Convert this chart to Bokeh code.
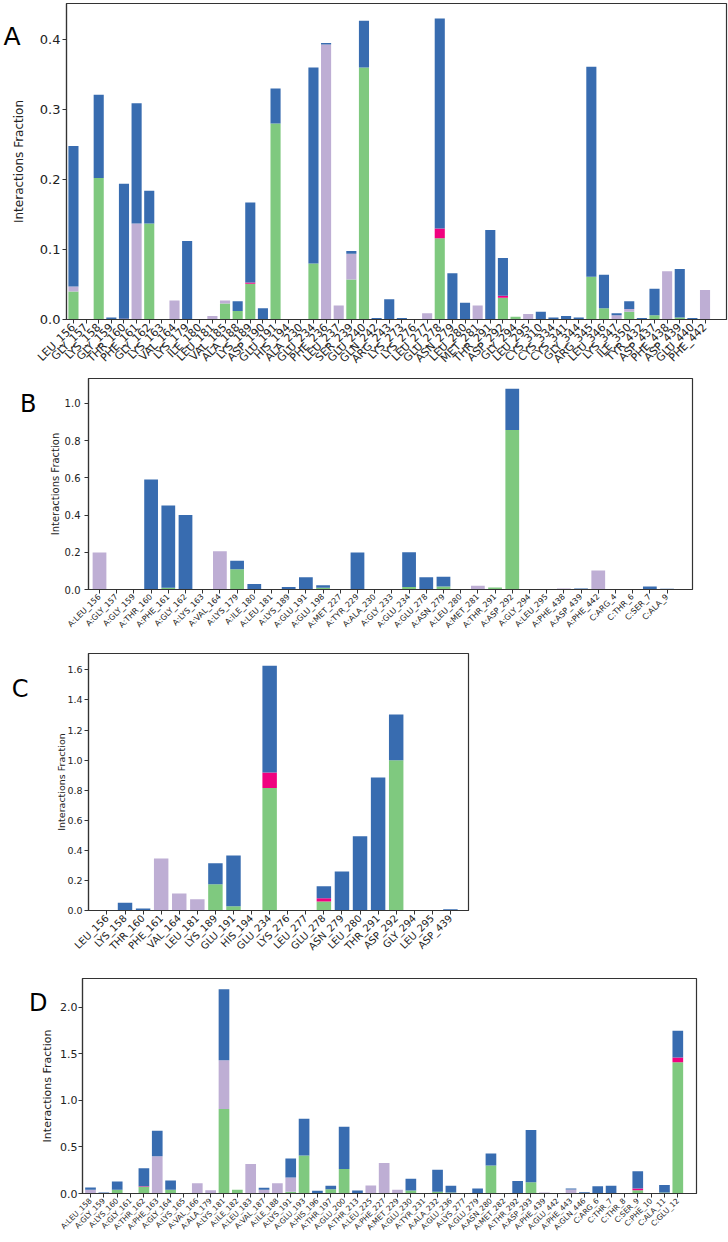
import numpy as np
from bokeh.plotting import figure
from bokeh.models import Range1d, FixedTicker, LinearAxis, ColumnDataSource, PrintfTickFormatter
from bokeh.embed import file_html
from bokeh.resources import INLINE

GREEN = "#7fc97f"; LAV = "#beaed4"; PINK = "#f0027f"; BLUE = "#386cb0"
FONT = "DejaVu Sans"

# ---------------- Panel A ----------------
a_res = ["LEU_156", "GLY_157", "LYS_158", "GLY_159", "THR_160", "PHE_161", "GLY_162", "LYS_163",
         "VAL_164", "LYS_179", "ILE_180", "LEU_181", "VAL_185", "ALA_188", "LYS_189", "ASP_190",
         "GLU_191", "HIS_194", "ALA_230", "GLU_234", "PHE_236", "LEU_237", "SER_239", "GLU_240",
         "GLN_242", "ARG_243", "LYS_273", "LYS_276", "LEU_277", "GLU_278", "ASN_279", "LEU_280",
         "MET_281", "THR_291", "ASP_292", "GLY_294", "LEU_295", "CYS_310", "CYS_334", "CYS_341",
         "GLY_344", "ARG_345", "LEU_346", "LYS_347", "ILE_350", "TYR_432", "ASP_437", "PHE_438",
         "ASP_439", "GLU_440", "PHE_442"]
a_hbond = [0.040, 0, 0.202, 0, 0, 0, 0.137, 0, 0, 0, 0, 0, 0.023, 0.012, 0.051, 0, 0.280, 0, 0, 0.080,
           0, 0, 0.057, 0.360, 0, 0, 0, 0, 0, 0.116, 0, 0, 0, 0, 0.031, 0.004, 0, 0, 0, 0,
           0, 0.061, 0.016, 0, 0.011, 0, 0.006, 0, 0.003, 0, 0]
a_hydro = [0.007, 0, 0, 0, 0, 0.137, 0, 0, 0.027, 0, 0, 0.005, 0.004, 0, 0, 0, 0, 0, 0, 0,
           0.393, 0.020, 0.037, 0, 0, 0, 0, 0, 0.009, 0, 0, 0, 0.020, 0, 0, 0, 0.008, 0, 0, 0,
           0, 0, 0, 0.006, 0.004, 0, 0, 0.069, 0, 0, 0.042]
a_ionic = [0, 0, 0, 0, 0.001, 0, 0, 0, 0, 0, 0, 0, 0, 0, 0.002, 0, 0, 0, 0, 0,
           0, 0, 0, 0, 0, 0, 0, 0, 0, 0.014, 0, 0, 0, 0, 0.003, 0, 0, 0, 0, 0,
           0, 0, 0, 0, 0, 0, 0, 0, 0, 0, 0]
a_water = [0.201, 0, 0.119, 0.003, 0.193, 0.172, 0.047, 0, 0, 0.112, 0, 0, 0, 0.014, 0.114, 0.016, 0.050, 0, 0, 0.280,
           0.002, 0, 0.004, 0.067, 0.002, 0.029, 0.002, 0, 0, 0.300, 0.066, 0.024, 0, 0.128, 0.054, 0, 0, 0.011, 0.003, 0.005,
           0.003, 0.300, 0.048, 0.003, 0.011, 0.002, 0.038, 0, 0.069, 0.002, 0]

# ---------------- Panel B ----------------
b_res = ["A:LEU_156", "A:GLY_157", "A:GLY_159", "A:THR_160", "A:PHE_161", "A:GLY_162", "A:LYS_163",
         "A:VAL_164", "A:LYS_179", "A:ILE_180", "A:LEU_181", "A:LYS_189", "A:GLU_191", "A:GLU_198",
         "A:MET_227", "A:TYR_229", "A:ALA_230", "A:GLY_233", "A:GLU_234", "A:GLU_278", "A:ASN_279",
         "A:LEU_280", "A:MET_281", "A:THR_291", "A:ASP_292", "A:GLY_294", "A:LEU_295", "A:PHE_438",
         "A:ASP_439", "A:PHE_442", "C:ARG_4", "C:THR_6", "C:SER_7", "C:ALA_9"]
b_hbond = [0, 0, 0, 0, 0.010, 0, 0, 0, 0.109, 0, 0, 0, 0, 0.010, 0, 0, 0, 0, 0.013, 0, 0.016,
           0, 0, 0.011, 0.857, 0, 0, 0, 0.003, 0, 0, 0, 0, 0]
b_hydro = [0.199, 0, 0, 0, 0, 0, 0, 0.206, 0, 0, 0, 0, 0, 0, 0.003, 0, 0, 0, 0, 0, 0,
           0, 0.020, 0, 0, 0, 0, 0.005, 0, 0.102, 0, 0, 0, 0]
b_ionic = [0, 0, 0, 0.003, 0, 0, 0, 0, 0, 0, 0, 0, 0, 0, 0, 0, 0, 0, 0, 0, 0,
           0, 0, 0, 0, 0, 0, 0, 0, 0, 0, 0, 0, 0]
b_water = [0, 0, 0.003, 0.588, 0.442, 0.400, 0.002, 0, 0.045, 0.029, 0, 0.014, 0.066, 0.013, 0, 0.199, 0, 0, 0.187, 0.066, 0.052,
           0, 0, 0, 0.222, 0, 0, 0, 0.003, 0, 0, 0.003, 0.016, 0.004]

# ---------------- Panel C ----------------
c_res = ["LEU_156", "LYS_158", "THR_160", "PHE_161", "VAL_164", "LEU_181", "LYS_189", "GLU_191",
         "HIS_194", "GLU_234", "LYS_276", "LEU_277", "GLU_278", "ASN_279", "LEU_280", "THR_291",
         "ASP_292", "GLY_294", "LEU_295", "ASP_439"]
c_hbond = [0, 0, 0, 0, 0, 0, 0.175, 0.029, 0, 0.815, 0, 0, 0.060, 0, 0, 0, 0.999, 0, 0, 0]
c_hydro = [0, 0, 0, 0.346, 0.113, 0.075, 0, 0, 0, 0, 0, 0, 0, 0, 0, 0, 0, 0, 0, 0]
c_ionic = [0, 0, 0, 0, 0, 0, 0, 0, 0, 0.102, 0, 0, 0.022, 0, 0, 0, 0, 0, 0, 0]
c_water = [0, 0.051, 0.013, 0, 0, 0, 0.140, 0.337, 0, 0.710, 0, 0, 0.080, 0.259, 0.494, 0.884, 0.304, 0, 0, 0.009]

# ---------------- Panel D ----------------
d_res = ["A:LEU_158", "A:GLY_159", "A:LYS_160", "A:GLY_161", "A:THR_162", "A:PHE_163", "A:GLY_164",
         "A:LYS_165", "A:VAL_166", "A:ALA_179", "A:LYS_181", "A:ILE_182", "A:LEU_183", "A:VAL_187",
         "A:ILE_188", "A:LYS_191", "A:GLU_193", "A:HIS_196", "A:THR_197", "A:GLU_200", "A:THR_213",
         "A:LEU_225", "A:PHE_227", "A:MET_229", "A:GLU_230", "A:TYR_231", "A:ALA_232", "A:GLU_236",
         "A:LYS_277", "A:GLU_279", "A:ASN_280", "A:MET_282", "A:THR_292", "A:ASP_293", "A:PHE_439",
         "A:GLU_442", "A:PHE_443", "A:GLN_446", "C:ARG_6", "C:THR_7", "C:THR_8", "C:SER_9",
         "C:PHE_10", "C:ALA_11", "C:GLU_12"]
d_hbond = [0, 0, 0.040, 0, 0.072, 0, 0.040, 0, 0, 0, 0.908, 0.040, 0, 0, 0, 0.018, 0.409, 0, 0.047, 0.262,
           0, 0, 0, 0, 0.032, 0, 0.018, 0.011, 0, 0, 0.302, 0, 0, 0.122, 0, 0, 0, 0, 0, 0,
           0, 0.036, 0, 0.011, 1.411]
d_hydro = [0.040, 0, 0, 0, 0, 0.400, 0, 0, 0.111, 0.036, 0.525, 0, 0.316, 0.040, 0.111, 0.154, 0, 0, 0, 0,
           0, 0.086, 0.327, 0.040, 0, 0, 0, 0, 0, 0, 0, 0, 0, 0, 0.011, 0, 0.043, 0, 0, 0,
           0, 0, 0, 0, 0]
d_ionic = [0, 0, 0, 0, 0.007, 0, 0, 0, 0, 0, 0, 0, 0, 0, 0, 0, 0, 0, 0, 0,
           0, 0, 0, 0, 0, 0, 0, 0, 0, 0, 0, 0, 0, 0, 0, 0, 0, 0, 0, 0,
           0, 0.018, 0, 0, 0.050]
d_water = [0.025, 0.011, 0.090, 0, 0.191, 0.275, 0.100, 0, 0, 0, 0.761, 0, 0, 0.021, 0, 0.205, 0.395, 0.029, 0.036, 0.456,
           0.032, 0, 0, 0, 0.126, 0.005, 0.237, 0.072, 0, 0.054, 0.129, 0, 0.133, 0.560, 0, 0, 0.011, 0.014, 0.079, 0.083,
           0, 0.186, 0, 0.079, 0.288]

Y_LABEL = "Interactions Fraction"


def panel(names, hb, hy, io, wb, *, height, left, right, top, bottom, x_start, x_end,
          y_end, y_ticks, tick_fs, tick_standoff, xlab_fs, ylab_fs, ylab_standoff,
          letter, letter_y_px, letter_standoff, lfs):
    x = list(range(len(names)))
    src = ColumnDataSource(dict(x=x, hb=hb, hy=hy, io=io, wb=wb))
    p = figure(width=728, height=height, title=None,
               x_range=Range1d(x_start, x_end), y_range=Range1d(0, y_end),
               output_backend="svg", toolbar_location=None,
               min_border_left=left, min_border_right=right,
               min_border_top=top, min_border_bottom=bottom)
    p.vbar_stack(["hb", "hy", "io", "wb"], x="x", width=0.8,
                 color=[GREEN, LAV, PINK, BLUE], line_color=None, source=src)
    p.grid.visible = False
    p.outline_line_color = "#333333"
    p.outline_line_width = 1.2
    p.background_fill_color = "white"
    p.border_fill_color = "white"
    for ax in (p.xaxis[0], p.yaxis[0]):
        ax.axis_line_color = "#333333"
        ax.axis_line_width = 1.2
        ax.major_tick_line_color = "#333333"
        ax.major_tick_out = 4
        ax.major_tick_in = 0
        ax.minor_tick_line_color = None
        ax.major_label_text_font = FONT
        ax.major_label_text_color = "#222222"
    p.xaxis.ticker = FixedTicker(ticks=x)
    p.xaxis.major_label_overrides = {i: n for i, n in zip(x, names)}
    p.xaxis.major_label_orientation = np.pi / 4
    p.xaxis.major_label_text_font_size = f"{xlab_fs}px"
    p.xaxis.major_label_standoff = 2
    p.yaxis.ticker = FixedTicker(ticks=y_ticks)
    p.yaxis.formatter = PrintfTickFormatter(format="%.1f")
    p.yaxis.major_label_text_font_size = f"{tick_fs}px"
    p.yaxis.major_label_standoff = tick_standoff
    p.yaxis.axis_label = Y_LABEL
    p.yaxis.axis_label_text_font = FONT
    p.yaxis.axis_label_text_font_style = "normal"
    p.yaxis.axis_label_text_font_size = f"{ylab_fs}px"
    p.yaxis.axis_label_text_color = "#222222"
    p.yaxis.axis_label_standoff = ylab_standoff
    # panel letter: an outer, line-less axis carrying one horizontal label
    frame_h = height - top - bottom
    ly = (frame_h - letter_y_px) / frame_h * y_end
    lax = LinearAxis(ticker=FixedTicker(ticks=[ly]), major_label_overrides={ly: letter},
                     axis_line_color=None, major_tick_line_color=None, minor_tick_line_color=None,
                     major_tick_out=0, major_tick_in=0, major_label_standoff=letter_standoff,
                     major_label_orientation="horizontal",
                     major_label_text_font=FONT, major_label_text_font_size=f"{lfs}px",
                     major_label_text_color="black")
    p.add_layout(lax, "left")
    return p


pa = panel(a_res, a_hbond, a_hydro, a_ionic, a_water, height=373, left=61, right=2, top=3, bottom=52,
           x_start=-0.55, x_end=51.7, y_end=0.4515, y_ticks=[0, 0.1, 0.2, 0.3, 0.4],
           tick_fs=13, tick_standoff=2, xlab_fs=11, ylab_fs=12, ylab_standoff=11,
           letter="A", letter_y_px=33, letter_standoff=-12, lfs=25)
pb = panel(b_res, b_hbond, b_hydro, b_ionic, b_water, height=272, left=88, right=36, top=5, bottom=56,
           x_start=-0.64, x_end=34.48, y_end=1.134, y_ticks=[0, 0.2, 0.4, 0.6, 0.8, 1.0],
           tick_fs=10, tick_standoff=4, xlab_fs=8, ylab_fs=10, ylab_standoff=1,
           letter="B", letter_y_px=25, letter_standoff=10, lfs=24)
pc = panel(c_res, c_hbond, c_hydro, c_ionic, c_water, height=320, left=88, right=260, top=8, bottom=55,
           x_start=-1.02, x_end=20.0, y_end=1.709, y_ticks=[0, 0.2, 0.4, 0.6, 0.8, 1.0, 1.2, 1.4, 1.6],
           tick_fs=9.5, tick_standoff=2, xlab_fs=10, ylab_fs=9.5, ylab_standoff=-3,
           letter="C", letter_y_px=35, letter_standoff=25, lfs=24)
pd_ = panel(d_res, d_hbond, d_hydro, d_ionic, d_water, height=277, left=82, right=32, top=13, bottom=49,
            x_start=-0.6, x_end=45.4, y_end=2.31, y_ticks=[0, 0.5, 1.0, 1.5, 2.0],
            tick_fs=11, tick_standoff=1, xlab_fs=7.5, ylab_fs=11, ylab_standoff=3,
            letter="D", letter_y_px=24.5, letter_standoff=-9, lfs=24)

# separate roots so that the four frames keep their own left/right edges
open("out.html", "w").write(file_html([pa, pb, pc, pd_], INLINE))
